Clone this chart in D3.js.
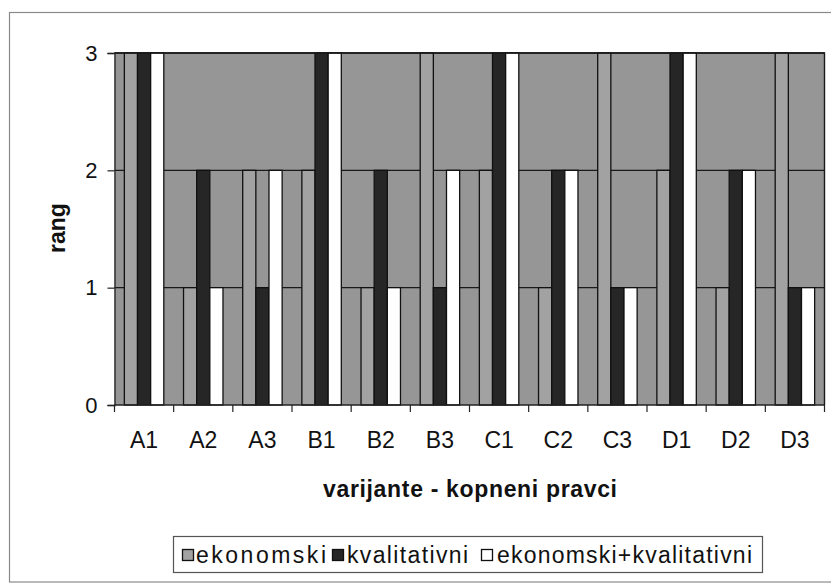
<!DOCTYPE html>
<html>
<head>
<meta charset="utf-8">
<script src="https://cdn.jsdelivr.net/npm/d3@7"></script>
<style>
  html, body { margin: 0; padding: 0; background: #fff; }
  svg { display: block; font-family: Arial, "Liberation Sans", sans-serif; }
</style>
</head>
<body>
<svg id="chart" width="831" height="583"></svg>
<script>
// Route variants (x categories)
const categories = ["A1", "A2", "A3", "B1", "B2", "B3", "C1", "C2", "C3", "D1", "D2", "D3"];
// Rank per criterion
const ekonomski   = [3, 1, 2, 2, 1, 3, 2, 1, 3, 2, 1, 3];
const kvalitativni = [3, 2, 1, 3, 2, 1, 3, 2, 1, 3, 2, 1];
const kombinovano  = [3, 1, 2, 3, 1, 2, 3, 2, 1, 3, 2, 1];
const seriesNames = ["ekonomski", "kvalitativni", "ekonomski+kvalitativni"];
const yTicks = [0, 1, 2, 3];

const seriesValues = [ekonomski, kvalitativni, kombinovano];
const seriesFill = ["#a2a2a2", "#262626", "#ffffff"];
const plotFill = "#969696";

const svg = d3.select("#chart");

// outer chart frame
svg.append("rect")
  .attr("x", 9.5).attr("y", 12.5)
  .attr("width", 840).attr("height", 569.5)
  .attr("fill", "none").attr("stroke", "#8a8a8a").attr("stroke-width", 1.2);

const plot = { left: 114.5, right: 824.5, top: 53, bottom: 405 };

const x = d3.scaleBand().domain(categories).range([plot.left, plot.right]).paddingInner(0).paddingOuter(0);
const xs = d3.scaleBand().domain(d3.range(3)).range([0, x.bandwidth()]).paddingInner(0).paddingOuter(0.75);
const y = d3.scaleLinear().domain([0, 3]).range([plot.bottom, plot.top]);

// plot area background
svg.append("rect")
  .attr("x", plot.left).attr("y", plot.top)
  .attr("width", plot.right - plot.left).attr("height", plot.bottom - plot.top)
  .attr("fill", plotFill);

// horizontal gridlines
svg.append("g").selectAll("line")
  .data(yTicks.filter(d => d > 0))
  .join("line")
  .attr("x1", plot.left).attr("x2", plot.right)
  .attr("y1", d => y(d)).attr("y2", d => y(d))
  .attr("stroke", "#1a1a1a").attr("stroke-width", 1.3);

// bars
const rows = [];
categories.forEach((c, i) => {
  seriesValues.forEach((vals, s) => rows.push({ cat: c, s, v: vals[i] }));
});

svg.append("g").selectAll("rect")
  .data(rows)
  .join("rect")
  .attr("x", d => x(d.cat) + xs(d.s))
  .attr("y", d => y(d.v))
  .attr("width", xs.bandwidth())
  .attr("height", d => y(0) - y(d.v))
  .attr("fill", d => seriesFill[d.s])
  .attr("stroke", "#111")
  .attr("stroke-width", 1.3);

// plot area border (top & right)
svg.append("path")
  .attr("d", `M${plot.left},${plot.top}H${plot.right}V${plot.bottom}`)
  .attr("fill", "none").attr("stroke", "#1a1a1a").attr("stroke-width", 1.4);

// y axis
const yAxis = svg.append("g")
  .attr("transform", `translate(${plot.left},0)`)
  .call(d3.axisLeft(y).tickValues(yTicks).tickFormat(d3.format("d")).tickSize(7).tickPadding(10));
yAxis.select(".domain").attr("stroke", "#222").attr("stroke-width", 1.3);
yAxis.selectAll(".tick line").attr("stroke", "#222").attr("stroke-width", 1.2);
yAxis.selectAll(".tick text")
  .attr("font-size", 22).attr("fill", "#111")
  .attr("font-family", "Arial, 'Liberation Sans', sans-serif");

// x axis: ticks at category boundaries
const xAxis = svg.append("g").attr("transform", `translate(0,${plot.bottom})`);
xAxis.append("line")
  .attr("x1", plot.left).attr("x2", plot.right)
  .attr("stroke", "#222").attr("stroke-width", 1.3);
xAxis.selectAll("line.tk")
  .data(categories.map(c => x(c)).concat([plot.right]))
  .join("line").attr("class", "tk")
  .attr("x1", d => d).attr("x2", d => d)
  .attr("y1", 0).attr("y2", 7)
  .attr("stroke", "#222").attr("stroke-width", 1.2);
xAxis.selectAll("text")
  .data(categories)
  .join("text")
  .attr("x", d => x(d) + x.bandwidth() / 2)
  .attr("y", 43)
  .attr("text-anchor", "middle")
  .attr("font-size", 23)
  .attr("fill", "#111")
  .text(d => d);

// axis titles
svg.append("text")
  .attr("transform", "translate(65,228) rotate(-90)")
  .attr("text-anchor", "middle")
  .attr("font-size", 23).attr("font-weight", "bold").attr("fill", "#111")
  .text("rang");

svg.append("text")
  .attr("x", 323).attr("y", 497)
  .attr("textLength", 294).attr("lengthAdjust", "spacing")
  .attr("font-size", 23).attr("font-weight", "bold").attr("fill", "#111")
  .text("varijante - kopneni pravci");

// legend
const legend = svg.append("g");
legend.append("rect")
  .attr("x", 173.5).attr("y", 536.5).attr("width", 589).attr("height", 36)
  .attr("fill", "#fff").attr("stroke", "#555").attr("stroke-width", 1.2);

const legendItems = [
  { sx: 182, tx: 196, tw: 130 },
  { sx: 332, tx: 347, tw: 121 },
  { sx: 481, tx: 497, tw: 255 }
];
legend.selectAll("g.item")
  .data(seriesNames)
  .join("g").attr("class", "item")
  .each(function (name, i) {
    const g = d3.select(this);
    const it = legendItems[i];
    g.append("rect")
      .attr("x", it.sx + 0.5).attr("y", 549.5).attr("width", 11).attr("height", 11)
      .attr("fill", seriesFill[i]).attr("stroke", "#111").attr("stroke-width", 1.3);
    g.append("text")
      .attr("x", it.tx).attr("y", 563)
      .attr("textLength", it.tw).attr("lengthAdjust", "spacing")
      .attr("font-size", 23).attr("fill", "#111")
      .text(name);
  });
</script>
</body>
</html>
